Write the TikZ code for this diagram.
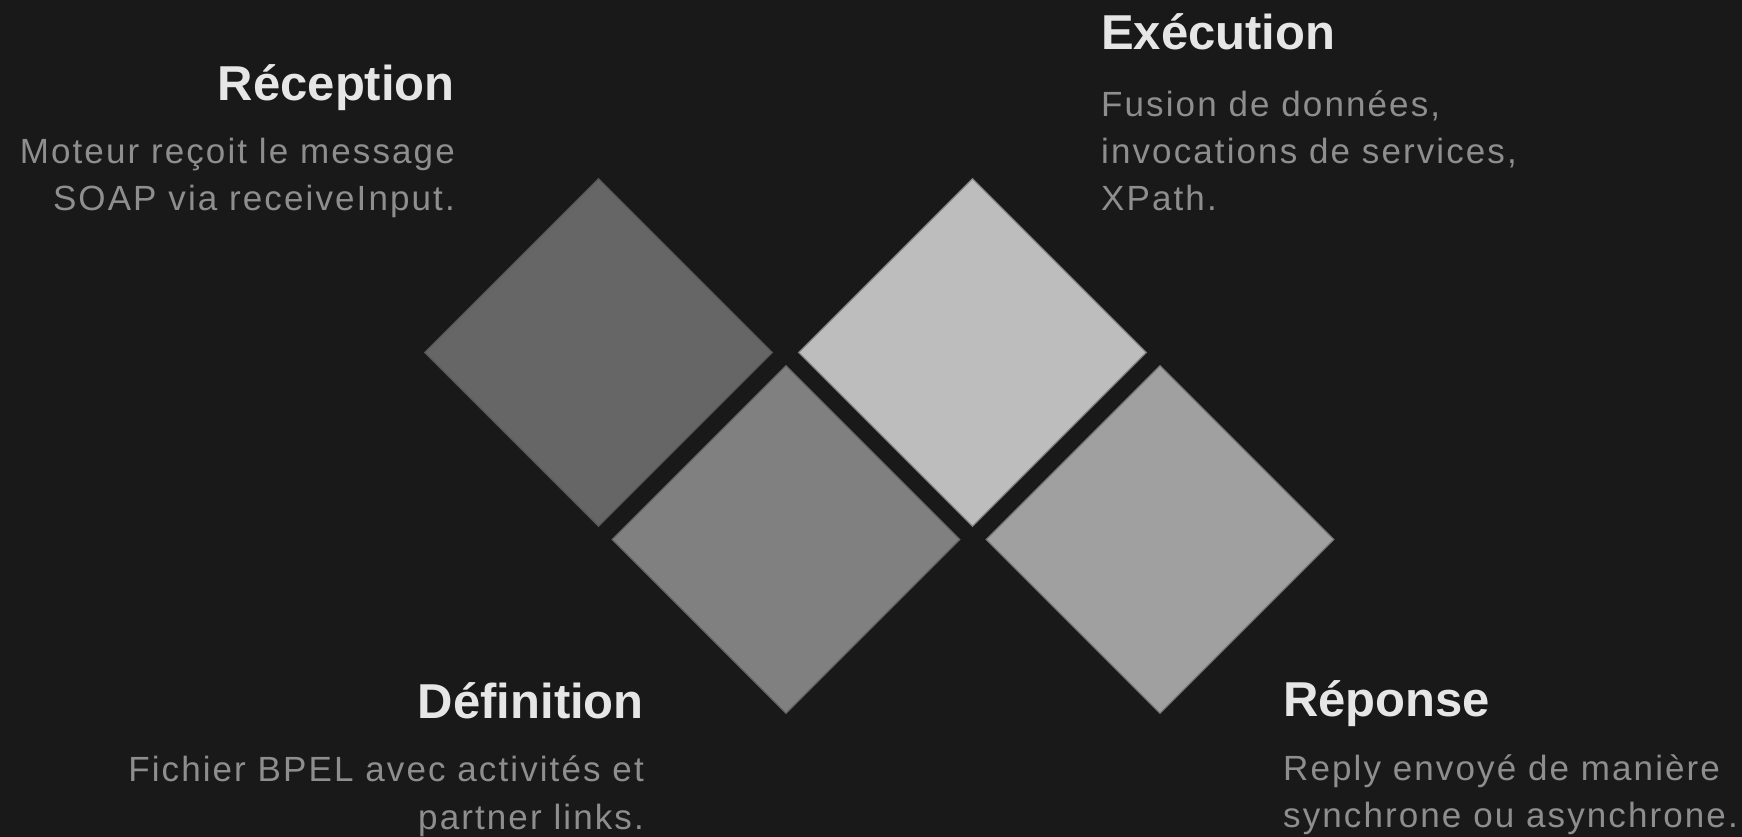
\documentclass[tikz,border=0pt]{standalone}
\usepackage{fontspec}
\setmainfont{Liberation Sans}
\newfontfamily\titlefont{Liberation Sans}
\newfontfamily\descfont[LetterSpace=6]{Liberation Sans}
\usetikzlibrary{shapes.geometric}
\definecolor{bg}{HTML}{1A191A}
\definecolor{titlecol}{HTML}{E6E6E6}
\definecolor{desccol}{HTML}{8E8E8E}
\definecolor{dA}{HTML}{666666}
\definecolor{dB}{HTML}{808080}
\definecolor{dC}{HTML}{BDBDBD}
\definecolor{dD}{HTML}{A0A0A0}
\tikzset{
  diam/.style={diamond, aspect=1, inner sep=0pt, minimum width=348pt, minimum height=348pt, line width=1.2pt},
  ttl/.style={inner sep=0pt, text=titlecol, font=\titlefont\bfseries\fontsize{49}{58}\selectfont},
  dsc/.style={inner sep=0pt, text=desccol, font=\descfont\fontsize{35}{47}\selectfont},
}
\begin{document}
\begin{tikzpicture}[x=1pt,y=-1pt]
\fill[bg] (0,0) rectangle (1742,837);
\useasboundingbox (0,0) rectangle (1742,837);

\node[diam, fill=dA, draw=dA!85!black] (d1) at (598.5,352.5) {};
\node[diam, fill=dB, draw=dB!80!black] (d2) at (786,539.5) {};
\node[diam, fill=dC, draw=dC!70!black] (d3) at (972.5,352.5) {};
\node[diam, fill=dD, draw=dD!75!black] (d4) at (1160,539.5) {};

\node[ttl, anchor=base east] (t1) at (455,101) {Réception};
\node[dsc, anchor=base east] (r1) at (455,164) {Moteur reçoit le message};
\node[dsc, anchor=base east] (r2) at (455,211) {SOAP via receiveInput.};

\node[ttl, anchor=base west] (t3) at (1101,50) {Exécution};
\node[dsc, anchor=base west] (e1) at (1101,117) {Fusion de données,};
\node[dsc, anchor=base west] (e2) at (1101,164) {invocations de services,};
\node[dsc, anchor=base west] (e3) at (1101,211) {XPath.};

\node[ttl, anchor=base east] (t2) at (644,718) {Définition};
\node[dsc, anchor=base east] (f1) at (644,781) {Fichier BPEL avec activités et};
\node[dsc, anchor=base east] (f2) at (644,829) {partner links.};

\node[ttl, anchor=base west] (t4) at (1283,716) {Réponse};
\node[dsc, anchor=base west] (p1) at (1283,780) {Reply envoyé de manière};
\node[dsc, anchor=base west] (p2) at (1283,827) {synchrone ou asynchrone.};
\end{tikzpicture}
\end{document}
